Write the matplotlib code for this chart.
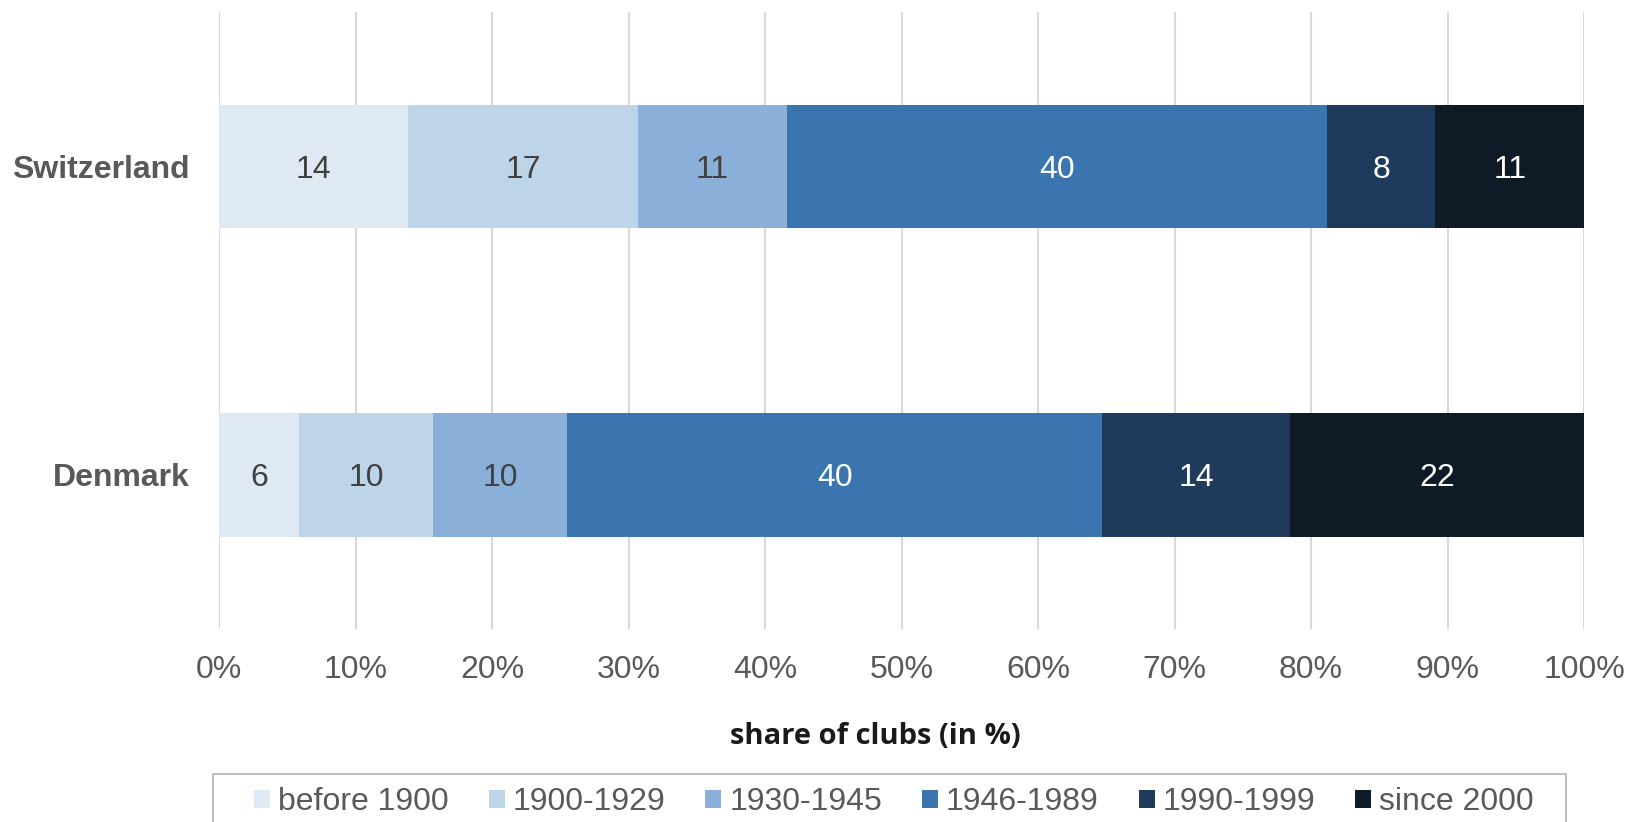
import matplotlib
matplotlib.use("Agg")
import matplotlib.pyplot as plt
from matplotlib.patches import Rectangle
from matplotlib.ticker import PercentFormatter
import numpy as np

countries = ["Denmark", "Switzerland"]
periods = ["before 1900", "1900-1929", "1930-1945", "1946-1989", "1990-1999", "since 2000"]
denmark = [6, 10, 10, 40, 14, 22]
switzerland = [14, 17, 11, 40, 8, 11]
colors = ["#DFE9F4", "#BDD4E9", "#8AAFD8", "#3A75AF", "#1F3A5A", "#0E1A26"]
text_colors = ["#404040", "#404040", "#404040", "white", "white", "white"]
xticks = [0, 10, 20, 30, 40, 50, 60, 70, 80, 90, 100]

plt.rcParams['font.family'] = ['Liberation Sans', 'DejaVu Sans']

fig = plt.figure(figsize=(16.3, 8.22), dpi=100)
ax = fig.add_axes([0.1344, 0.2348, 0.9718 - 0.1344, 0.9848 - 0.2348])

data = np.array([denmark, switzerland], dtype=float)
shares = data / data.sum(axis=1, keepdims=True) * 100
y = np.arange(len(countries))
left = np.zeros(len(countries))
handles = []
for j, p in enumerate(periods):
    bars = ax.barh(y, shares[:, j], left=left, height=0.4, color=colors[j], label=p, zorder=3)
    handles.append(bars)
    for i in range(len(countries)):
        ax.text(left[i] + shares[i, j] / 2, y[i], f"{int(data[i, j])}", ha="center",
                va="center_baseline", fontsize=23, color=text_colors[j], zorder=4)
    left += shares[:, j]

ax.set_xlim(0, 100)
ax.set_ylim(-0.5, 1.5)
ax.set_xticks(xticks)
ax.xaxis.set_major_formatter(PercentFormatter(decimals=0))
ax.set_yticks(y)
ax.set_yticklabels(countries, fontsize=23, fontweight="bold", color="#595959")
ax.tick_params(axis="x", labelsize=23, labelcolor="#595959", length=0, pad=19)
ax.tick_params(axis="y", length=0, pad=21)
ax.grid(axis="x", color="#D9D9D9", linewidth=1.5, zorder=0)
ax.set_axisbelow(True)
for s in ax.spines.values():
    s.set_visible(False)

fig.text(875 / 1630, 1 - 736 / 822, "share of clubs (in %)", ha="center", va="center",
         fontsize=21, fontweight="bold", color="#1a1a1a", family=["Open Sans", "DejaVu Sans"])

# legend frame
fig.patches.append(Rectangle((213 / 1630, -0.05), (1566 - 213) / 1630, 0.05 + 1 - 774 / 822,
                             transform=fig.transFigure, fill=False, edgecolor="#BFBFBF",
                             linewidth=1.5, figure=fig))
leg = fig.legend(handles=handles, labels=periods, loc="center", ncol=6,
                 bbox_to_anchor=(894 / 1630, 1 - 802 / 822), frameon=False,
                 fontsize=23, handlelength=0.5, handleheight=0.5, handletextpad=0.25,
                 columnspacing=1.25, labelcolor="#595959", borderaxespad=0)

fig.savefig("out.png", dpi=100)
